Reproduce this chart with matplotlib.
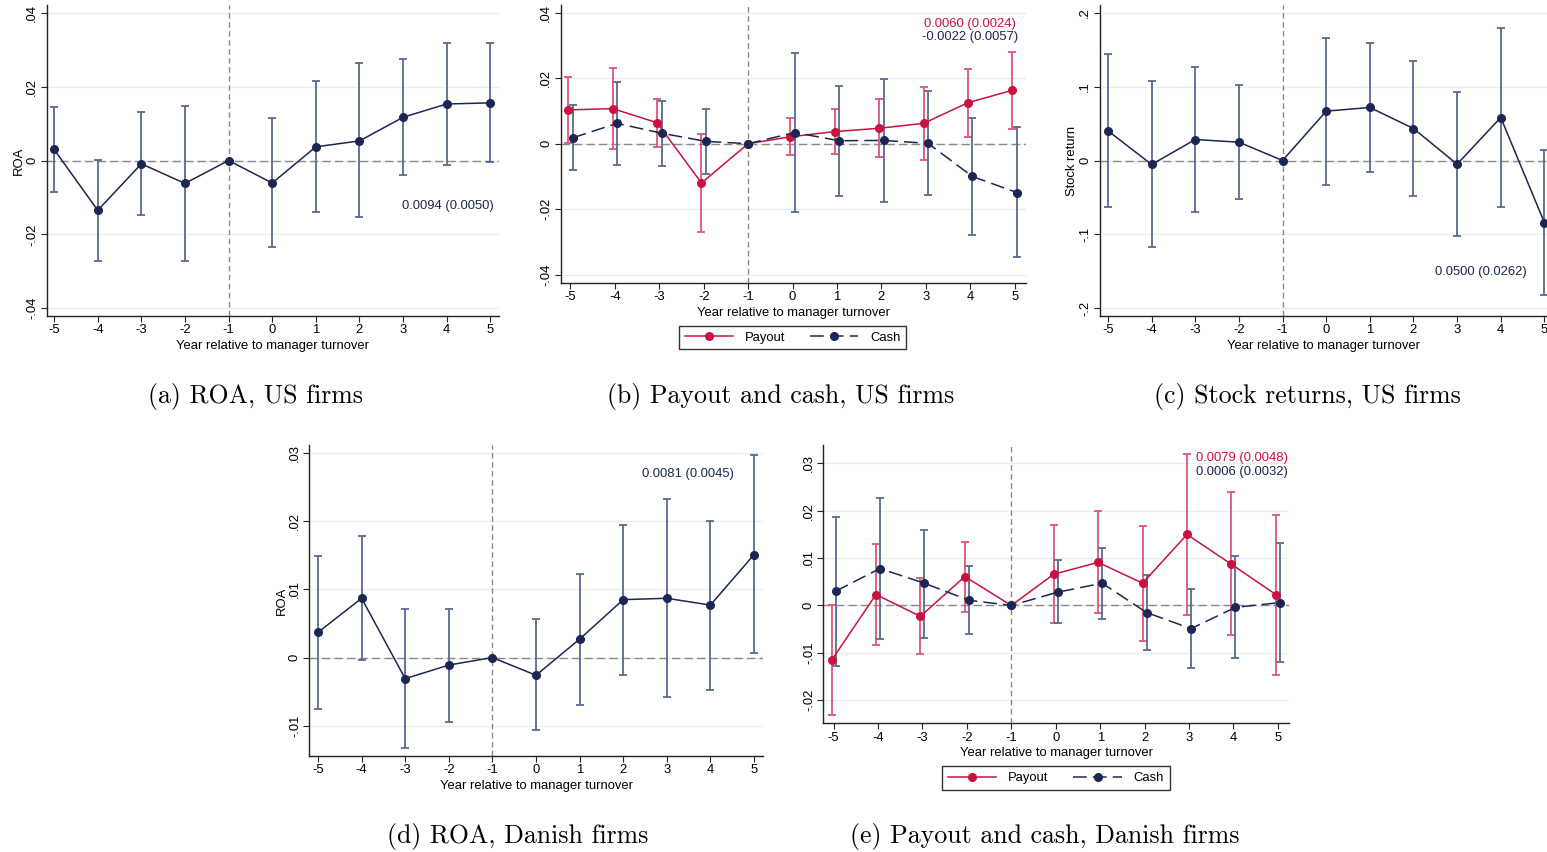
import numpy as np
import matplotlib
matplotlib.use("Agg")
import matplotlib.pyplot as plt
from matplotlib.lines import Line2D

# event time
years = [-5, -4, -3, -2, -1, 0, 1, 2, 3, 4, 5]

# (a) ROA, US firms
roa_us = [0.0030, -0.0135, -0.0009, -0.0062, 0.0, -0.0061, 0.0037, 0.0053, 0.0117, 0.0153, 0.0156]
roa_us_hi = [0.0145, 0.0002, 0.0130, 0.0148, 0.0, 0.0114, 0.0214, 0.0263, 0.0274, 0.0317, 0.0319]
roa_us_lo = [-0.0086, -0.0272, -0.0148, -0.0271, 0.0, -0.0235, -0.0139, -0.0154, -0.0038, -0.0011, -0.0005]

# (b) payout and cash, US firms
pay_us = [0.0103, 0.0107, 0.0064, -0.0120, 0.0, 0.0021, 0.0037, 0.0047, 0.0062, 0.0125, 0.0163]
pay_us_hi = [0.0203, 0.0232, 0.0137, 0.0029, 0.0, 0.0077, 0.0106, 0.0135, 0.0174, 0.0229, 0.0280]
pay_us_lo = [0.0003, -0.0015, -0.0010, -0.0269, 0.0, -0.0036, -0.0032, -0.0041, -0.0050, 0.0021, 0.0046]
cash_us = [0.0018, 0.0062, 0.0032, 0.0007, 0.0, 0.0034, 0.0009, 0.0010, 0.0001, -0.0100, -0.0149]
cash_us_hi = [0.0118, 0.0189, 0.0131, 0.0107, 0.0, 0.0276, 0.0177, 0.0198, 0.0161, 0.0079, 0.0052]
cash_us_lo = [-0.0081, -0.0064, -0.0068, -0.0092, 0.0, -0.0207, -0.0159, -0.0177, -0.0157, -0.0277, -0.0347]

# (c) stock returns, US firms
ret_us = [0.0402, -0.0054, 0.0284, 0.0248, 0.0, 0.0668, 0.0718, 0.0433, -0.0050, 0.0582, -0.0840]
ret_us_hi = [0.1436, 0.1070, 0.1260, 0.1016, 0.0, 0.1661, 0.1594, 0.1341, 0.0921, 0.1788, 0.0144]
ret_us_lo = [-0.0628, -0.1174, -0.0691, -0.0519, 0.0, -0.0325, -0.0153, -0.0479, -0.1025, -0.0628, -0.1824]

# (d) ROA, Danish firms
roa_dk = [0.0037, 0.0087, -0.0031, -0.0011, 0.0, -0.0026, 0.0027, 0.0085, 0.0087, 0.0077, 0.0151]
roa_dk_hi = [0.0149, 0.0178, 0.0071, 0.0072, 0.0, 0.0056, 0.0123, 0.0195, 0.0233, 0.0201, 0.0297]
roa_dk_lo = [-0.0075, -0.0003, -0.0133, -0.0094, 0.0, -0.0106, -0.0070, -0.0025, -0.0058, -0.0047, 0.0006]

# (e) payout and cash, Danish firms
pay_dk = [-0.0116, 0.0023, -0.0023, 0.0061, 0.0, 0.0066, 0.0091, 0.0047, 0.0150, 0.0087, 0.0023]
pay_dk_hi = [0.0001, 0.0129, 0.0059, 0.0133, 0.0, 0.0170, 0.0200, 0.0168, 0.0321, 0.0239, 0.0192]
pay_dk_lo = [-0.0232, -0.0084, -0.0103, -0.0013, 0.0, -0.0037, -0.0016, -0.0075, -0.0020, -0.0063, -0.0146]
cash_dk = [0.0030, 0.0078, 0.0047, 0.0011, 0.0, 0.0028, 0.0047, -0.0015, -0.0049, -0.0004, 0.0006]
cash_dk_hi = [0.0187, 0.0228, 0.0160, 0.0084, 0.0, 0.0095, 0.0121, 0.0064, 0.0034, 0.0105, 0.0132]
cash_dk_lo = [-0.0128, -0.0071, -0.0068, -0.0061, 0.0, -0.0038, -0.0028, -0.0094, -0.0132, -0.0112, -0.0119]

# y ticks, Stata style labels
yt_roa_us = [-0.04, -0.02, 0, 0.02, 0.04]
yl_roa_us = ["-.04", "-.02", "0", ".02", ".04"]
yt_ret = [-0.2, -0.1, 0, 0.1, 0.2]
yl_ret = ["-.2", "-.1", "0", ".1", ".2"]
yt_roa_dk = [-0.01, 0, 0.01, 0.02, 0.03]
yl_roa_dk = ["-.01", "0", ".01", ".02", ".03"]
yt_pay_dk = [-0.02, -0.01, 0, 0.01, 0.02, 0.03]
yl_pay_dk = ["-.02", "-.01", "0", ".01", ".02", ".03"]

captions = ["(a) ROA, US firms", "(b) Payout and cash, US firms", "(c) Stock returns, US firms",
            "(d) ROA, Danish firms", "(e) Payout and cash, Danish firms"]
xlabel = "Year relative to manager turnover"

NAVY = "#1b2653"
NAVY_CI = "#5b6890"
RED = "#c9123f"
RED_CI = "#d9577a"
GRID = "#e6eff0"
FS = 9.4

plt.rcParams['font.family'] = ['Liberation Sans', 'DejaVu Sans']
plt.rcParams['font.size'] = FS

W, H = 1547, 852
fig = plt.figure(figsize=(W / 100, H / 100), dpi=100)


def px_axes(l, t, r, b):
    return fig.add_axes([l / W, 1 - b / H, (r - l) / W, (b - t) / H])


def series(ax, x, y, lo, hi, col, cicol, dashes=None):
    y = np.array(y)
    err = [y - np.array(lo), np.array(hi) - y]
    ax.errorbar(x, y, yerr=err, fmt="none", ecolor=cicol, elinewidth=1.3,
                capsize=3, capthick=1.3, zorder=3)
    ln, = ax.plot(x, y, color=col, lw=1.1, marker="o", ms=5.5,
                  mfc=col, mec=col, zorder=4)
    if dashes is not None:
        ln.set_dashes(dashes)
    return ln


def style(ax, xlim, ylim, yt, yl, ylabel=None):
    ax.set_xlim(*xlim)
    ax.set_ylim(*ylim)
    ax.set_xticks(years)
    ax.set_xticklabels([str(v) for v in years])
    ax.set_yticks(yt)
    ax.set_yticklabels(yl, rotation=90, va="center")
    for v in yt:
        ax.axhline(v, color=GRID, lw=1.0, zorder=0)
    ax.axhline(0, color="#8a8a8a", lw=1.0, dashes=(6, 3), zorder=1)
    ax.axvline(-1, color="#8a8a8a", lw=1.0, dashes=(4, 2.5), zorder=1)
    for s in ["top", "right"]:
        ax.spines[s].set_visible(False)
    for s in ["left", "bottom"]:
        ax.spines[s].set_color("#222222")
        ax.spines[s].set_linewidth(1.0)
    ax.tick_params(length=4, width=0.8, color="#222222", pad=2, labelsize=FS)
    ax.set_xlabel(xlabel, fontsize=FS, labelpad=2.5)
    if ylabel:
        ax.set_ylabel(ylabel, fontsize=FS, labelpad=1)


def shift(vals, d):
    return [v + (d if v != -1 else 0) for v in vals]


def legend(cx, cy):
    h1 = Line2D([], [], color=RED, lw=1.1, marker="o", ms=5.5)
    h2 = Line2D([], [], color=NAVY, lw=1.1, marker="o", ms=5.5, dashes=(9, 4))
    lg = fig.legend([h1, h2], ["Payout", "Cash"], ncol=2, loc="center",
                    bbox_to_anchor=(cx / W, 1 - cy / H), fancybox=False,
                    edgecolor="#333333", framealpha=1, handlelength=3.7,
                    handletextpad=0.9, columnspacing=1.9, borderpad=0.45,
                    fontsize=FS)
    lg.get_frame().set_linewidth(1.0)


# (a)
ax = px_axes(46.7, 5, 499, 316)
series(ax, years, roa_us, roa_us_lo, roa_us_hi, NAVY, NAVY_CI)
style(ax, (-5.17, 5.2), (-0.0421, 0.0421), yt_roa_us, yl_roa_us, "ROA")
ax.text(5.07, -0.0123, "0.0094 (0.0050)", color=NAVY, ha="right", va="center")

# (b)
ax = px_axes(560.7, 5, 1025.7, 282.7)
series(ax, shift(years, -0.05), pay_us, pay_us_lo, pay_us_hi, RED, RED_CI)
series(ax, shift(years, 0.05), cash_us, cash_us_lo, cash_us_hi, NAVY, NAVY_CI, dashes=(9, 4))
style(ax, (-5.22, 5.25), (-0.0424, 0.0423), yt_roa_us, yl_roa_us)
ax.text(5.03, 0.0366, "0.0060 (0.0024)", color=RED, ha="right", va="center")
ax.text(5.08, 0.0326, "-0.0022 (0.0057)", color=NAVY, ha="right", va="center")
legend(792.5, 337.5)

# (c)
ax = px_axes(1099.7, 5, 1547, 316)
series(ax, years, ret_us, ret_us_lo, ret_us_hi, NAVY, NAVY_CI)
style(ax, (-5.19, 5.06), (-0.2105, 0.2105), yt_ret, yl_ret, "Stock return")
ax.text(4.6, -0.1508, "0.0500 (0.0262)", color=NAVY, ha="right", va="center")

# (d)
ax = px_axes(309.3, 445, 762.7, 756)
series(ax, years, roa_dk, roa_dk_lo, roa_dk_hi, NAVY, NAVY_CI)
style(ax, (-5.2, 5.2), (-0.01445, 0.0312), yt_roa_dk, yl_roa_dk, "ROA")
ax.text(4.55, 0.0269, "0.0081 (0.0045)", color=NAVY, ha="right", va="center")

# (e)
ax = px_axes(823.3, 445, 1289, 723.3)
series(ax, shift(years, -0.045), pay_dk, pay_dk_lo, pay_dk_hi, RED, RED_CI)
series(ax, shift(years, 0.045), cash_dk, cash_dk_lo, cash_dk_hi, NAVY, NAVY_CI, dashes=(9, 4))
style(ax, (-5.23, 5.25), (-0.0249, 0.0339), yt_pay_dk, yl_pay_dk)
ax.text(5.22, 0.0311, "0.0079 (0.0048)", color=RED, ha="right", va="center")
ax.text(5.22, 0.0281, "0.0006 (0.0032)", color=NAVY, ha="right", va="center")
legend(1056, 778)

# captions
cap_pos = [(255, 396), (781, 396), (1307, 396), (518, 836), (1045, 836)]
for (cx, cy), txt in zip(cap_pos, captions):
    fig.text(cx / W, 1 - cy / H, txt, ha="center", va="center",
             fontsize=18.6, family="cmr10")

fig.savefig("out.png", dpi=100)
